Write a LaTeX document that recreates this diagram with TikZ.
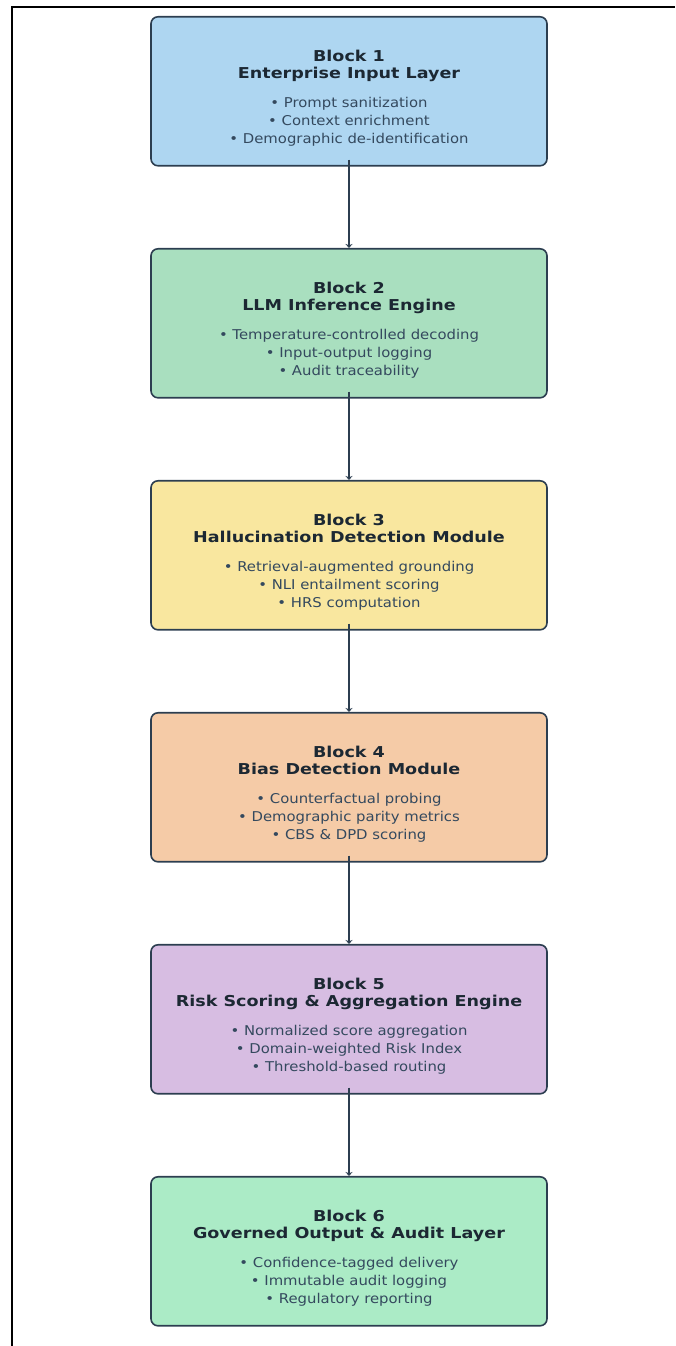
\documentclass[tikz,border=0pt]{standalone}
\usepackage{fontspec}
\setmainfont{DejaVu Sans}
\newfontfamily\ttlfont{DejaVu Sans}[FakeStretch=1.17]
\newfontfamily\itemfont{DejaVu Sans}[FakeStretch=1.1]
\usepackage{xcolor}
\usetikzlibrary{positioning,calc,arrows.meta}
\definecolor{edge}{HTML}{2C3E50}
\definecolor{ink}{HTML}{1C2833}
\definecolor{inkii}{HTML}{34495E}
\definecolor{blkblue}{HTML}{AED6F1}
\definecolor{blkgreen}{HTML}{A9DFBF}
\definecolor{blkyellow}{HTML}{F9E79F}
\definecolor{blkorange}{HTML}{F5CBA7}
\definecolor{blkviolet}{HTML}{D7BDE2}
\definecolor{blkmint}{HTML}{ABEBC6}
\tikzset{
  block/.style  = {draw=edge, line width=1.6pt, rounded corners=7pt, minimum width=396pt, minimum height=149pt, inner sep=0pt, anchor=north},
  ttl/.style    = {font=\ttlfont\fontsize{15}{17}\selectfont\bfseries\color{ink}, anchor=base, inner sep=0pt, outer sep=0pt},
  item/.style   = {font=\itemfont\fontsize{13.5}{16}\selectfont\color{inkii}, anchor=base, inner sep=0pt, outer sep=0pt},
  flow/.style   = {-{Stealth[length=4pt,width=7pt]}, draw=edge, line width=1.6pt},
}
\begin{document}
\begin{tikzpicture}[x=1pt,y=1pt]
\path[use as bounding box] (0,0) rectangle (675,1346);

% ---- frame ---------------------------------------------------------------
\draw[black, line width=1.6pt] (12,0) -- (12,1339) -- (675,1339);

% ---- blocks --------------------------------------------------------------
\foreach \n/\top/\col/\ttltext/\ia/\ib/\ic in {
  1/1330/blkblue/{Enterprise Input Layer}/{Prompt sanitization}/{Context enrichment}/{Demographic de-identification},
  2/1098/blkgreen/{LLM Inference Engine}/{Temperature-controlled decoding}/{Input-output logging}/{Audit traceability},
  3/866/blkyellow/{Hallucination Detection Module}/{Retrieval-augmented grounding}/{NLI entailment scoring}/{HRS computation},
  4/634/blkorange/{Bias Detection Module}/{Counterfactual probing}/{Demographic parity metrics}/{CBS \& DPD scoring},
  5/402/blkviolet/{Risk Scoring \& Aggregation Engine}/{Normalized score aggregation}/{Domain-weighted Risk Index}/{Threshold-based routing},
  6/170/blkmint/{Governed Output \& Audit Layer}/{Confidence-tagged delivery}/{Immutable audit logging}/{Regulatory reporting}} {
  \node[block, fill=\col] (blk\n) at (349,\top) {};
  \node[ttl]  at ([yshift=-46pt]blk\n.north) {Block \n};
  \node[ttl]  at ([yshift=-63pt]blk\n.north) {\ttltext};
  \node[item] at ([yshift=-92pt]blk\n.north) {• \ia};
  \node[item] at ([yshift=-110pt]blk\n.north) {• \ib};
  \node[item] at ([yshift=-128pt]blk\n.north) {• \ic};
}

% ---- connectors ----------------------------------------------------------
\foreach \n/\m in {1/2,2/3,3/4,4/5,5/6}
  \draw[flow] ([yshift=7pt]blk\n.south) -- (blk\m.north);

\end{tikzpicture}
\end{document}
